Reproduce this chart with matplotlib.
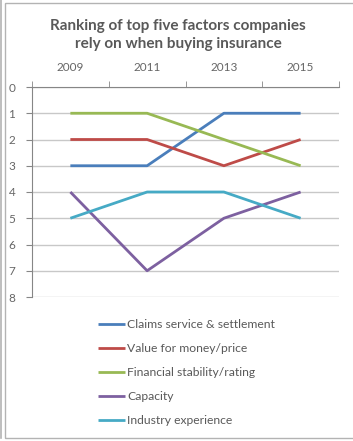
import numpy as np
import matplotlib.pyplot as plt
from matplotlib.patches import Rectangle
from matplotlib.lines import Line2D

plt.rcParams['font.family'] = ['Lato', 'DejaVu Sans']

years = ['2009', '2011', '2013', '2015']
claims = [3, 3, 1, 1]
value = [2, 2, 3, 2]
financial = [1, 1, 2, 3]
capacity = [4, 7, 5, 4]
industry = [5, 4, 4, 5]

names = ['Claims service & settlement', 'Value for money/price',
         'Financial stability/rating', 'Capacity', 'Industry experience']
colors = ['#4A7EBB', '#BE4B48', '#98B954', '#7D60A0', '#46AAC5']
series = [claims, value, financial, capacity, industry]

W, H = 353, 441
fig = plt.figure(figsize=(W / 100, H / 100), dpi=100)

# chart border
fig.add_artist(Rectangle((5 / W, 3 / H), 1, 435 / H, transform=fig.transFigure,
                         fill=False, edgecolor='#b3b3b3', lw=1))
fig.add_artist(Line2D([1 / W, 1 / W], [3 / H, 1], transform=fig.transFigure,
                      color='#b3b3b3', lw=1.2))

ax = fig.add_axes([32 / W, 144 / H, 307 / W, 210 / H])
x = np.arange(len(years))
for s, c, n in zip(series, colors, names):
    ax.plot(x, s, color=c, lw=2, label=n, solid_capstyle='butt')

ax.set_xlim(-0.5, 3.5)
ax.set_ylim(8, 0)
ax.set_yticks(range(0, 9))
ax.set_xticks(x)
ax.set_xticklabels(years)
ax.set_xticks(np.arange(-0.5, 3.6, 1), minor=True)
ax.xaxis.tick_top()
ax.tick_params(axis='x', which='major', length=0, pad=10, labelsize=8.5, colors='#666666')
ax.tick_params(axis='x', which='minor', length=4, color='#868686', direction='out')
ax.tick_params(axis='y', length=4, color='#868686', labelsize=8.5, labelcolor='#666666', pad=8)
ax.grid(axis='y', color='#c8c8c8', lw=1)
ax.set_axisbelow(True)
for sp in ['right', 'bottom']:
    ax.spines[sp].set_visible(False)
for sp in ['left', 'top']:
    ax.spines[sp].set_color('#868686')

fig.text(0.505, 1 - 35 / H, 'Ranking of top five factors companies\nrely on when buying insurance',
         ha='center', va='center', fontsize=11, fontweight='bold', color='#595959',
         linespacing=1.4)

fig.legend(loc='upper left', bbox_to_anchor=(92 / W, 1 - 313 / H), frameon=False,
           fontsize=8.7, labelcolor='#595959', handlelength=2.2, handletextpad=0.2,
           labelspacing=1.08, borderpad=0)

fig.savefig('out.png', dpi=100)
